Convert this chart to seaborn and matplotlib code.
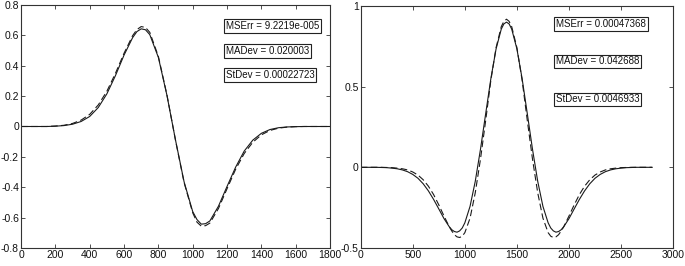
import numpy as np
import pandas as pd
import matplotlib
matplotlib.use('Agg')
import matplotlib.pyplot as plt
import seaborn as sns

sns.set_style('ticks')
plt.rcParams['font.family'] = ['Liberation Sans', 'DejaVu Sans']
plt.rcParams['axes.unicode_minus'] = False

# left panel: solid and dashed curves
x_left = [0, 50, 100, 150, 200, 250, 300, 350, 400, 450,
          500, 550, 600, 650, 675, 700, 725, 750, 800, 850,
          900, 950, 1000, 1025, 1050, 1075, 1100, 1150, 1200, 1250,
          1300, 1350, 1400, 1450, 1500, 1550, 1600, 1650, 1700, 1750, 1800]
left_solid = [0, 0, 0, 0, 0.002, 0.006, 0.015, 0.033, 0.066, 0.125,
              0.215, 0.335, 0.470, 0.585, 0.625, 0.643, 0.637, 0.605, 0.455, 0.205,
              -0.090, -0.365, -0.560, -0.613, -0.643, -0.640, -0.622, -0.525, -0.395, -0.268,
              -0.162, -0.090, -0.045, -0.020, -0.008, -0.003, -0.001, 0, 0, 0, 0]
left_dash = [0, 0, 0, 0, 0.003, 0.008, 0.020, 0.042, 0.080, 0.142,
             0.232, 0.350, 0.482, 0.598, 0.638, 0.658, 0.652, 0.620, 0.462, 0.208,
             -0.092, -0.370, -0.568, -0.630, -0.656, -0.653, -0.636, -0.540, -0.410, -0.282,
             -0.178, -0.104, -0.055, -0.026, -0.011, -0.004, -0.001, 0, 0, 0, 0]

# right panel
x_right = [0, 50, 100, 150, 200, 250, 300, 350, 400, 450,
           500, 550, 600, 650, 700, 750, 800, 850, 875, 900,
           925, 950, 975, 1000, 1050, 1100, 1150, 1200, 1250, 1300,
           1350, 1375, 1400, 1425, 1450, 1500, 1550, 1600, 1650, 1700,
           1750, 1800, 1825, 1850, 1875, 1900, 1925, 1950, 2000, 2050,
           2100, 2150, 2200, 2250, 2300, 2350, 2400, 2450, 2500, 2550,
           2600, 2650, 2700, 2750, 2800]
right_solid = [0, 0, 0, 0, -0.001, -0.002, -0.005, -0.009, -0.016, -0.027,
               -0.044, -0.068, -0.102, -0.146, -0.199, -0.258, -0.318, -0.368, -0.387, -0.398,
               -0.402, -0.394, -0.376, -0.344, -0.242, -0.087, 0.111, 0.332, 0.550, 0.734,
               0.857, 0.889, 0.900, 0.889, 0.857, 0.734, 0.550, 0.332, 0.111, -0.087,
               -0.242, -0.344, -0.376, -0.394, -0.402, -0.398, -0.387, -0.368, -0.318, -0.258,
               -0.199, -0.146, -0.102, -0.068, -0.044, -0.027, -0.016, -0.009, -0.005, -0.002,
               -0.001, 0, 0, 0, 0]
right_dash = [0, 0, 0, 0, 0, -0.001, -0.002, -0.005, -0.009, -0.016,
              -0.029, -0.048, -0.077, -0.117, -0.169, -0.233, -0.302, -0.368, -0.395, -0.418,
              -0.431, -0.435, -0.427, -0.405, -0.315, -0.158, 0.050, 0.290, 0.540, 0.742,
              0.872, 0.905, 0.918, 0.905, 0.872, 0.742, 0.540, 0.290, 0.050, -0.158,
              -0.315, -0.405, -0.427, -0.435, -0.431, -0.418, -0.395, -0.368, -0.302, -0.233,
              -0.169, -0.117, -0.077, -0.048, -0.029, -0.016, -0.009, -0.005, -0.002, -0.001,
              0, 0, 0, 0, 0]

left_stats = ['MSErr = 9.2219e-005', 'MADev = 0.020003', 'StDev = 0.00022723']
right_stats = ['MSErr = 0.00047368', 'MADev = 0.042688', 'StDev = 0.0046933']

left_xticks = list(range(0, 1801, 200))
left_yticks = [-0.8, -0.6, -0.4, -0.2, 0, 0.2, 0.4, 0.6, 0.8]
left_ylabels = ['-0.8', '-0.6', '-0.4', '-0.2', '0', '0.2', '0.4', '0.6', '0.8']
right_xticks = list(range(0, 3001, 500))
right_yticks = [-0.5, 0, 0.5, 1]
right_ylabels = ['-0.5', '0', '0.5', '1']

fig = plt.figure(figsize=(6.85, 2.66), dpi=100)
ax1 = fig.add_axes([0.0307, 0.0677, 0.4511, 0.9135])
ax2 = fig.add_axes([0.5266, 0.0677, 0.4560, 0.9098])

line_col = '#1a1a1a'
dash_style = (0, (6, 3))


def draw_panel(ax, x, solid, dash, xticks, yticks, ylabels, stats, tx, tys):
    sns.lineplot(x=x, y=solid, ax=ax, color=line_col, lw=0.8)
    sns.lineplot(x=x, y=dash, ax=ax, color=line_col, lw=0.8, linestyle=dash_style)
    ax.set_xlim(xticks[0], xticks[-1])
    ax.set_ylim(yticks[0], yticks[-1])
    ax.set_xticks(xticks)
    ax.set_xticklabels([str(t) for t in xticks])
    ax.set_yticks(yticks)
    ax.set_yticklabels(ylabels)
    ax.tick_params(direction='in', length=3, width=0.6, labelsize=7.5, pad=1.5,
                   top=True, right=True, colors='#333333', labelcolor='#111111')
    for sp in ax.spines.values():
        sp.set_visible(True)
        sp.set_linewidth(0.8)
        sp.set_color('#333333')
    ax.set_xlabel('')
    ax.set_ylabel('')
    for s, ty in zip(stats, tys):
        ax.text(tx, ty, s, transform=ax.transAxes, fontsize=7, va='center', ha='left',
                color='#111111',
                bbox=dict(boxstyle='square,pad=0.18', fc='white', ec='#222222', lw=0.8))


draw_panel(ax1, x_left, left_solid, left_dash, left_xticks, left_yticks, left_ylabels,
           left_stats, 0.662, [0.914, 0.810, 0.712])
draw_panel(ax2, x_right, right_solid, right_dash, right_xticks, right_yticks, right_ylabels,
           right_stats, 0.625, [0.926, 0.771, 0.614])

fig.savefig('out.png', dpi=100)
